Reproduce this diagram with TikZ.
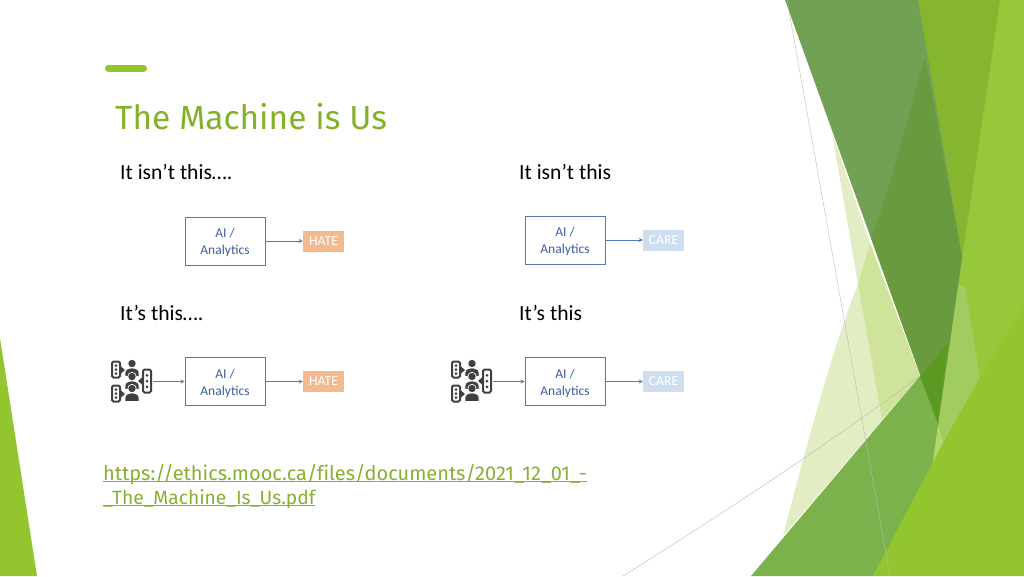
\documentclass[tikz,border=0pt]{standalone}
\usepackage{fontspec}
\setmainfont{Carlito}
\newfontfamily\headfont[Ligatures=NoCommon]{Fira Sans}
\definecolor{leaf}{HTML}{93C52F}
\definecolor{facetdark}{HTML}{72A055}
\definecolor{facetdeep}{HTML}{6A9A40}
\definecolor{facetmoss}{HTML}{86B52F}
\definecolor{facetlight}{HTML}{97C73A}
\definecolor{facetpale}{HTML}{A0CC60}
\definecolor{facetsliver}{HTML}{B2D86A}
\definecolor{facetmid}{HTML}{7CB24C}
\definecolor{facetcore}{HTML}{5A9A22}
\definecolor{paleone}{HTML}{E2EDC4}
\definecolor{paletwo}{HTML}{CFE49A}
\definecolor{linkgreen}{HTML}{86B030}
\definecolor{boxblue}{HTML}{5578B8}
\definecolor{boxtext}{HTML}{3A5C9E}
\definecolor{hatefill}{HTML}{F4B98F}
\definecolor{carefill}{HTML}{CCDEEF}
\definecolor{icongray}{HTML}{404040}
\tikzset{
  flowbox/.style={draw=boxblue, line width=0.9pt, minimum width=80pt, minimum height=48pt, align=center,
    text=boxtext, font=\fontsize{13.5}{17}\selectfont},
  tagbox/.style={minimum width=41pt, minimum height=21pt, text=white, font=\fontsize{13.8}{15}\selectfont},
  flow/.style={->, >=stealth, boxblue, line width=0.8pt},
  caption/.style={anchor=west, text=black, inner sep=0pt, font=\fontsize{21.6}{25}\selectfont},
  thinline/.style={gray!55, line width=0.4pt}
}
% one speech bubble: x, y, height
\newcommand{\bubble}[3]{%
  \draw[icongray, line width=2pt, rounded corners=1.5pt] (#1,#2) rectangle ++(8,#3);
  \foreach \d in {0.25,0.5,0.75}
    \fill[icongray] (#1+4,#2+\d*#3) circle (1.5pt);
}
% one person of the crowd: x, y of the head
\newcommand{\person}[2]{%
  \fill[icongray, draw=white, line width=0.7pt] (#1-7,#2+13) -- (#1-7,#2+9) .. controls (#1-7,#2+3) and (#1+7,#2+3) .. (#1+7,#2+9) -- (#1+7,#2+13) -- cycle;
  \fill[icongray, draw=white, line width=0.7pt] (#1,#2) circle (4.2pt);
}
% crowd icon around a centre point
\newcommand{\crowd}[3]{%
  \begin{scope}[shift={(#1,#2)}]
  \bubble{-20}{-20}{16}
  \fill[icongray] (-11,-15) -- (-7,-11.5) -- (-11,-8) -- cycle;
  \bubble{-20}{4}{16}
  \fill[icongray] (-11,9) -- (-7,12.5) -- (-11,16) -- cycle;
  \bubble{11}{-12}{23}
  \fill[icongray] (10,-4) -- (6,-0.5) -- (10,3) -- cycle;
  \person{0}{-18}
  \person{0}{-5}
  \person{0}{7}
  \coordinate (#3) at (21,0);
  \end{scope}
}
\begin{document}
\begin{tikzpicture}[x=1pt,y=-1pt]
\useasboundingbox (0,0) rectangle (1024,576);
% facets on the right
\fill[paleone] (832,133) -- (870,243) -- (920,376) -- (783,536) .. controls (805,450) and (835,340) .. (858,284) -- cycle;
\fill[paletwo] (858,284) -- (870,243) -- (920,376) -- (882,419) -- cycle;
\fill[facetlight] (990,0) -- (1024,0) -- (1024,310) -- (943,445) -- (930,424) -- (950,286) -- cycle;
\fill[facetmoss] (910,0) -- (1000,0) -- (958,286) -- (950,260) -- cycle;
\fill[facetpale] (958,286) -- (965,286) -- (980,378) -- (943,443) -- (938,424) -- cycle;
\fill[facetsliver] (938,424) -- (943,443) -- (930,470) -- cycle;
\fill[facetdark] (785,0) -- (918,0) -- (962,257) -- (938,424) -- cycle;
\fill[facetdeep] (925,57) -- (962,257) -- (938,424) -- (871,238) .. controls (890,190) and (910,110) .. (925,57) -- cycle;
\fill[facetmid] (948,343) -- (938,424) -- (932,468) -- (873,576) -- (751,576) -- cycle;
\fill[facetcore] (920,376) -- (948,343) -- (938,424) -- cycle;
\fill[leaf] (1024,306) -- (980,378) -- (943,443) -- (873,576) -- (1024,576) -- cycle;
\fill[leaf] (0,338) -- (37,576) -- (0,576) -- cycle;
\draw[thinline] (787,0) -- (890,576);
\draw[thinline] (920,376) .. controls (820,450) and (720,515) .. (623,576);
% heading
\draw[leaf, line width=7pt, line cap=round] (108.5,68.5) -- (143.5,68.5);
\node[anchor=west, text=leaf!90!black, inner sep=0pt, font=\headfont\fontsize{33.5}{40}\selectfont] (title) at (115,117) {The Machine is Us};
% captions
\node[caption] (capa) at (120,172) {It isn't this….};
\node[caption] (capb) at (519,172) {It isn't this};
\node[caption] (capc) at (120,313) {It's this….};
\node[caption] (capd) at (519,313) {It's this};
% top row
\node[flowbox] (boxa) at (225,241) {\rule{0pt}{13pt}AI /\\Analytics};
\node[tagbox, fill=hatefill] (hatea) at (323.5,241) {HATE};
\draw[flow] (boxa) -- (hatea);
\node[flowbox] (boxb) at (565,240) {\rule{0pt}{13pt}AI /\\Analytics};
\node[tagbox, fill=carefill] (careb) at (663.5,240) {CARE};
\draw[flow] (boxb) -- (careb);
% bottom row
\node[flowbox] (boxc) at (225,381.5) {\rule{0pt}{13pt}AI /\\Analytics};
\node[tagbox, fill=hatefill] (hatec) at (323.5,381.5) {HATE};
\draw[flow] (boxc) -- (hatec);
\crowd{132}{381.5}{crowdc}
\draw[flow] (crowdc) -- (boxc);
\node[flowbox] (boxd) at (565,381.5) {\rule{0pt}{13pt}AI /\\Analytics};
\node[tagbox, fill=carefill] (cared) at (663.5,381.5) {CARE};
\draw[flow] (boxd) -- (cared);
\crowd{472}{381.5}{crowdd}
\draw[flow] (crowdd) -- (boxd);
% link
\node[anchor=north west, inner sep=0pt, align=left, text=linkgreen, font=\headfont\fontsize{20}{24}\selectfont] (link) at (103,480) {\underline{\smash{https://ethics.mooc.ca/files/documents/2021\_12\_01\_-}}\\{\fontsize{19.2}{24}\selectfont\underline{\smash{\_The\_Machine\_Is\_Us.pdf}}}};
\end{tikzpicture}
\end{document}
